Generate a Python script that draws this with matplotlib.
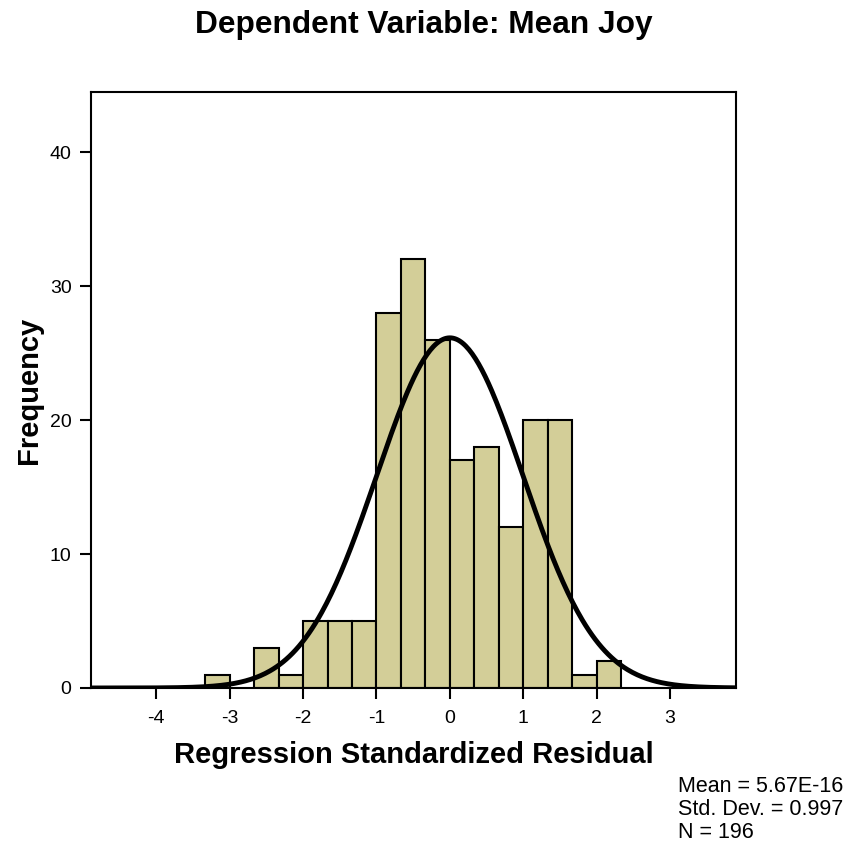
import numpy as np
import matplotlib.pyplot as plt

plt.rcParams['font.family'] = ['Liberation Sans', 'DejaVu Sans']
plt.rcParams['axes.unicode_minus'] = False

# histogram of standardized residuals, bins of width 1/3
bin_width = 1.0 / 3.0
first_edge = -10.0 / 3.0
counts = [1, 0, 3, 1, 5, 5, 5, 28, 32, 26, 17, 18, 12, 20, 20, 1, 2]

mean = 5.67e-16
std = 0.997
n = 196

fig = plt.figure(figsize=(8.47, 8.46), dpi=100)
ax = fig.add_axes([0.1074, 0.1868, 0.7616, 0.7045])

lefts = first_edge + bin_width * np.arange(len(counts))
heights = np.array(counts)
mask = heights > 0
ax.bar(lefts[mask], heights[mask], width=bin_width, align='edge',
       color='#D3CE98', edgecolor='black', linewidth=1.5, zorder=2)

# fitted normal curve
xs = np.linspace(-4.9, 3.9, 400)
ys = n * bin_width * np.exp(-0.5 * ((xs - mean) / std) ** 2) / (std * np.sqrt(2 * np.pi))
ax.plot(xs, ys, color='black', linewidth=3.5, zorder=3)

ax.set_xlim(-4.89, 3.9)
ax.set_ylim(0, 44.5)
ax.set_xticks(range(-4, 4))
ax.set_yticks([0, 10, 20, 30, 40])
ax.tick_params(direction='out', length=8, width=1.5, labelsize=14, pad=6)
ax.tick_params(axis='x', pad=8)
for s in ax.spines.values():
    s.set_linewidth(1.5)

ax.set_xlabel('Regression Standardized Residual', fontsize=21, fontweight='bold', labelpad=10)
ax.set_ylabel('Frequency', fontsize=21, fontweight='bold', labelpad=5)
fig.suptitle('Dependent Variable: Mean Joy', fontsize=22.8, fontweight='bold', y=0.988)

fig.text(0.801, 0.043, 'Mean = 5.67E-16\nStd. Dev. = 0.997\nN = 196',
         fontsize=15.5, va='center', ha='left', linespacing=1.12)

fig.savefig('out.png', dpi=100)
